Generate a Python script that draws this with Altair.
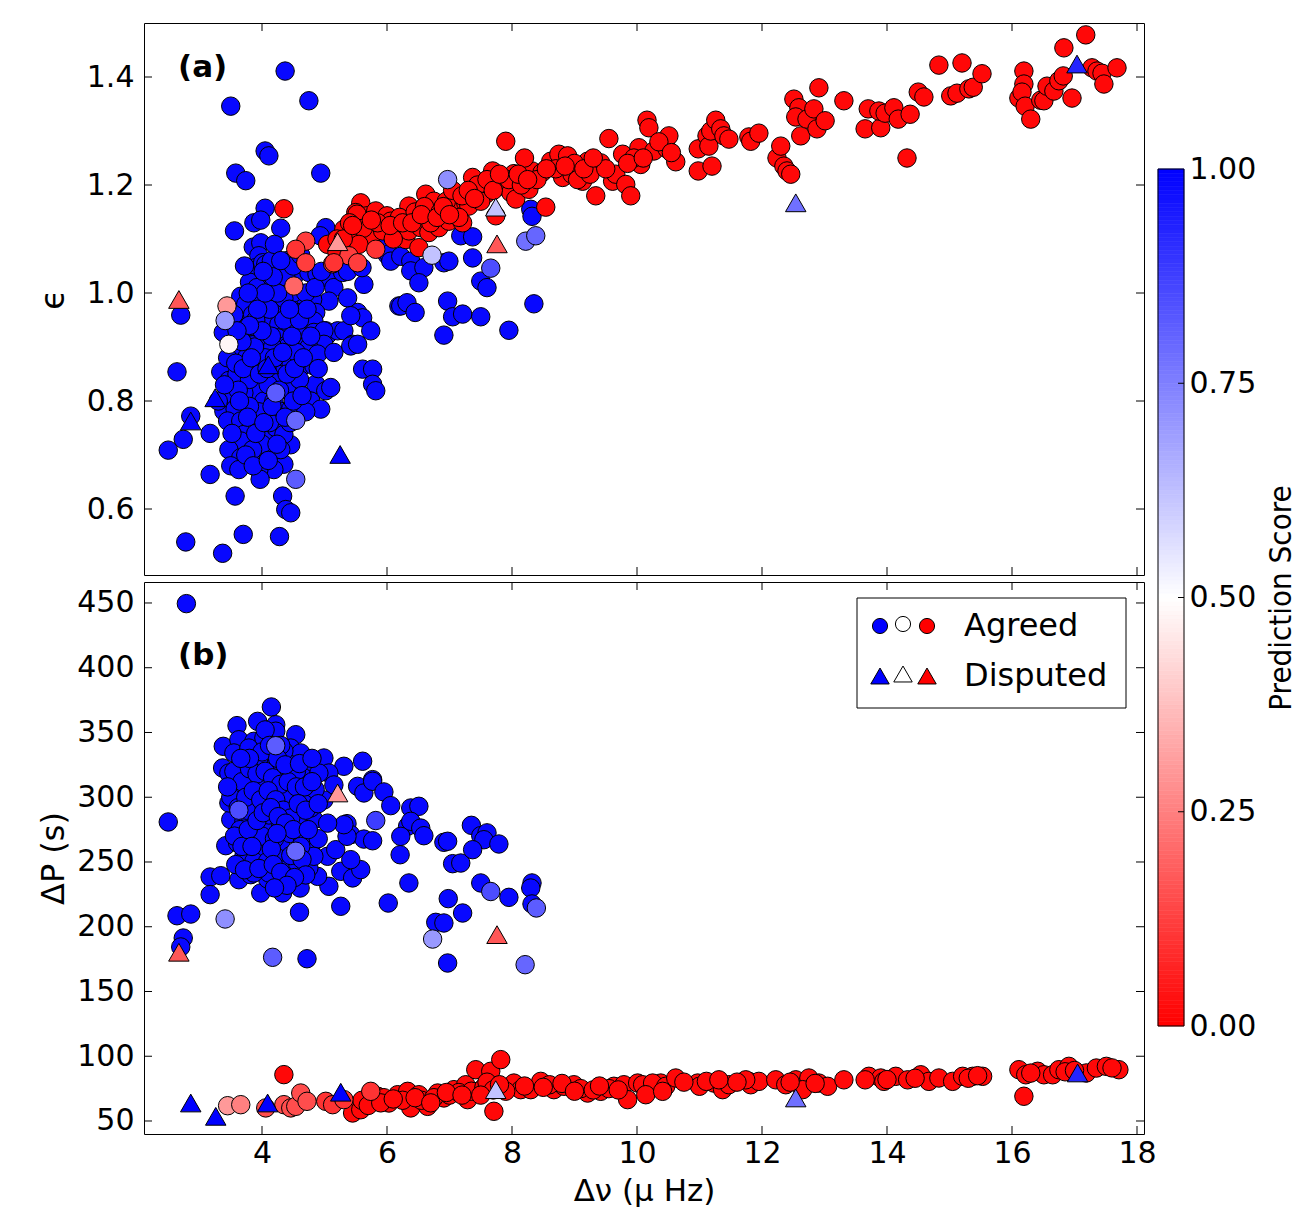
import altair as alt
import pandas as pd
import numpy as np

# ---------------- Panel (a): epsilon vs delta nu ----------------
# agreed stars with prediction score ~1 (blue circles): (dnu, eps)
a_blue = [
    (4.37, 1.411), (3.50, 1.346), (4.75, 1.356), (4.05, 1.263), (4.11, 1.254), (3.58, 1.222),
    (3.74, 1.208), (4.94, 1.222), (4.05, 1.157), (3.87, 1.130), (3.98, 1.135), (3.56, 1.115),
    (4.30, 1.120), (3.86, 1.085), (3.98, 1.093), (3.95, 1.069), (3.90, 1.047), (4.01, 1.056),
    (4.06, 1.053), (4.06, 1.028), (4.14, 1.031), (4.35, 1.016), (4.30, 1.004), (4.54, 1.035),
    (4.75, 1.038), (4.88, 1.035), (5.02, 1.121), (4.93, 1.106), (5.05, 1.028), (5.15, 1.010),
    (5.07, 0.985), (5.02, 0.930), (4.81, 0.988), (4.86, 0.964), (4.62, 0.982), (4.62, 0.964),
    (4.43, 0.976), (4.30, 0.958), (4.46, 0.951), (4.64, 0.942), (4.83, 0.948), (5.05, 0.923),
    (5.21, 0.930), (5.31, 0.930), (5.29, 1.038), (5.37, 1.040), (5.53, 0.964), (5.61, 0.954),
    (5.37, 0.991), (5.42, 0.958), (5.45, 0.905), (5.74, 0.930), (5.63, 1.016), (6.19, 0.976),
    (6.06, 1.062), (6.00, 1.071), (5.94, 1.101),
    (3.66, 0.994), (3.63, 0.964), (3.74, 0.979), (3.95, 0.991), (3.98, 0.961), (4.09, 0.979),
    (4.22, 0.979), (4.11, 0.948), (4.27, 0.942), (4.46, 0.936), (4.62, 0.927), (4.83, 0.927),
    (4.99, 0.930), (3.71, 0.930), (3.87, 0.930), (4.03, 0.917), (4.25, 0.917), (3.82, 0.905),
    (4.19, 0.905), (4.41, 0.905), (4.73, 0.905), (4.99, 0.905), (3.38, 0.927), (2.70, 0.959),
    (3.80, 1.020), (3.92, 1.010), (4.15, 1.060), (4.20, 1.090), (3.72, 1.050), (4.40, 1.060),
    (4.50, 1.000), (3.85, 0.960), (4.35, 0.990), (4.70, 1.000), (4.15, 1.000), (3.55, 0.960),
    (2.64, 0.854), (3.34, 0.854), (3.47, 0.838), (3.76, 0.865), (3.87, 0.865), (3.98, 0.862),
    (4.30, 0.868), (4.46, 0.874), (4.62, 0.862), (4.83, 0.865), (4.75, 0.899), (4.41, 0.900),
    (4.17, 0.900), (3.85, 0.904), (3.66, 0.887), (4.89, 0.887), (5.15, 0.890), (5.42, 0.902),
    (5.53, 0.905), (5.61, 0.859), (5.77, 0.859), (5.77, 0.831), (5.82, 0.819), (4.86, 0.831),
    (5.02, 0.819), (5.10, 0.825), (4.78, 0.800), (4.94, 0.785), (4.57, 0.819), (4.17, 0.834),
    (3.93, 0.819), (3.71, 0.815), (3.50, 0.800), (3.39, 0.781), (3.57, 0.785), (3.87, 0.781),
    (4.03, 0.800), (4.19, 0.800), (4.30, 0.781), (4.46, 0.785), (4.22, 0.760), (3.93, 0.763),
    (3.45, 0.763), (3.66, 0.763), (3.71, 0.738), (3.95, 0.738), (4.06, 0.741), (4.22, 0.751),
    (4.46, 0.719), (4.35, 0.738), (3.66, 0.726), (3.47, 0.710), (3.66, 0.695), (3.50, 0.680),
    (3.63, 0.673), (3.98, 0.695), (4.09, 0.707), (4.35, 0.683), (4.19, 0.673), (3.95, 0.673),
    (3.97, 0.655), (3.17, 0.740), (2.74, 0.729), (2.50, 0.709), (3.17, 0.664), (3.57, 0.624),
    (4.33, 0.624), (4.38, 0.599), (4.46, 0.593), (2.78, 0.539), (3.37, 0.518), (3.70, 0.553),
    (4.28, 0.549), (2.86, 0.772),
    (3.60, 0.850), (4.05, 0.880), (4.25, 0.850), (4.55, 0.890), (4.10, 0.830), (3.80, 0.840),
    (4.40, 0.820), (3.95, 0.780), (4.12, 0.760), (3.80, 0.790), (4.60, 0.840), (4.00, 0.720),
    (4.30, 0.710), (3.85, 0.710), (4.45, 0.760), (3.55, 0.900), (3.45, 0.880), (4.70, 0.780),
    (3.30, 0.800), (4.90, 0.860), (4.15, 0.920), (4.55, 0.930), (3.90, 0.950), (4.35, 0.950),
    (3.62, 0.820), (3.75, 0.880), (3.88, 0.900), (4.00, 0.930), (4.12, 0.970), (4.25, 1.000),
    (4.38, 1.030), (4.50, 1.050), (4.62, 1.070), (3.68, 0.910), (3.80, 0.940), (3.93, 0.970),
    (4.05, 1.000), (4.18, 1.030), (4.30, 1.060), (3.58, 0.870), (3.70, 0.860), (3.83, 0.880),
    (3.96, 0.850), (4.08, 0.860), (4.20, 0.880), (4.33, 0.890), (4.48, 0.920), (4.60, 0.950),
    (4.72, 0.970), (4.85, 1.010), (4.95, 1.040), (3.64, 0.800), (3.77, 0.770), (3.90, 0.740),
    (4.03, 0.760), (4.16, 0.790), (4.28, 0.820), (4.40, 0.850), (4.52, 0.860), (4.66, 0.880),
    (4.78, 0.920), (3.74, 0.700), (3.86, 0.680), (4.10, 0.690), (4.24, 0.720), (4.37, 0.770),
    (4.50, 0.800), (4.64, 0.810), (3.52, 0.740), (3.40, 0.830), (3.60, 0.930), (4.02, 1.040),
    (3.78, 1.000), (4.44, 0.970),
    (8.30, 1.155), (8.32, 1.142), (7.18, 1.106), (7.37, 1.104), (5.95, 1.100), (6.03, 1.072),
    (6.06, 1.059), (6.22, 1.068), (6.38, 1.059), (6.38, 1.041), (6.59, 1.047), (6.51, 1.019),
    (6.91, 1.056), (6.99, 1.059), (7.37, 1.065), (7.50, 1.022), (7.60, 1.010), (6.22, 0.976),
    (6.32, 0.982), (6.45, 0.964), (6.97, 0.985), (7.05, 0.956), (7.21, 0.961), (7.50, 0.956),
    (8.35, 0.980), (7.95, 0.931), (6.91, 0.922), (5.60, 1.047),
]

# agreed stars with prediction score ~0 (red circles): (dnu, eps)
a_red = [
    (4.35, 1.156), (7.90, 1.281), (9.55, 1.286), (10.16, 1.320), (5.58, 1.167), (5.50, 1.149),
    (5.68, 1.143), (5.82, 1.152), (6.00, 1.143), (6.06, 1.133), (5.52, 1.146), (5.31, 1.118),
    (5.47, 1.115), (5.74, 1.102), (5.93, 1.115), (6.14, 1.115), (6.30, 1.099), (6.35, 1.115),
    (6.51, 1.136), (6.54, 1.121), (6.67, 1.112), (6.62, 1.183), (6.75, 1.170), (6.83, 1.121),
    (6.99, 1.133), (7.10, 1.152), (7.21, 1.130), (7.26, 1.167), (7.31, 1.161), (7.37, 1.214),
    (7.58, 1.183), (7.69, 1.226), (7.71, 1.204), (7.85, 1.198), (7.98, 1.186), (8.03, 1.221),
    (8.06, 1.174), (8.27, 1.192), (8.32, 1.226), (8.48, 1.223), (8.54, 1.159), (8.62, 1.244),
    (8.75, 1.257), (8.81, 1.214), (8.89, 1.254), (8.96, 1.220), (9.13, 1.207), (9.21, 1.244),
    (9.34, 1.180), (9.42, 1.241), (9.61, 1.207), (9.66, 1.220), (9.77, 1.257), (9.82, 1.201),
    (9.90, 1.180), (10.03, 1.269), (10.06, 1.238), (6.51, 1.084), (6.35, 1.161), (7.74, 1.143),
    (10.19, 1.306), (10.27, 1.263), (10.48, 1.267), (10.51, 1.291), (10.62, 1.243), (10.98, 1.267),
    (10.98, 1.226), (11.12, 1.291), (11.15, 1.272), (11.18, 1.300), (11.20, 1.235), (11.26, 1.320),
    (11.34, 1.304), (11.39, 1.291), (11.47, 1.285), (11.79, 1.289), (11.82, 1.281), (11.95, 1.296),
    (12.24, 1.250), (12.30, 1.272), (12.35, 1.235), (12.40, 1.226), (12.46, 1.220), (12.51, 1.359),
    (12.59, 1.343), (12.54, 1.326), (12.62, 1.291), (12.72, 1.322), (12.83, 1.341), (12.88, 1.304),
    (12.91, 1.380), (13.01, 1.319), (13.31, 1.356), (13.65, 1.304), (13.70, 1.341), (13.90, 1.306),
    (13.87, 1.337), (13.97, 1.333), (14.11, 1.343), (14.18, 1.322), (14.32, 1.250), (14.37, 1.331),
    (14.50, 1.372), (14.59, 1.363), (14.83, 1.422), (15.02, 1.365), (15.12, 1.370), (15.20, 1.426),
    (15.31, 1.378), (15.38, 1.381), (15.52, 1.406), (16.11, 1.361), (16.19, 1.411), (16.19, 1.387),
    (16.16, 1.372), (16.21, 1.346), (16.30, 1.322), (16.46, 1.357), (16.51, 1.356), (16.56, 1.383),
    (16.67, 1.374), (16.75, 1.393), (16.82, 1.402), (16.83, 1.454), (16.96, 1.361), (17.18, 1.478),
    (17.28, 1.417), (17.36, 1.411), (17.44, 1.407), (17.47, 1.387), (17.68, 1.417),
    (5.05, 1.090), (5.20, 1.100), (5.40, 1.130), (5.62, 1.120), (5.85, 1.130), (6.20, 1.140),
    (6.45, 1.150), (6.60, 1.160), (6.85, 1.150), (6.95, 1.170), (7.05, 1.190), (7.20, 1.180),
    (7.45, 1.200), (7.50, 1.170), (7.60, 1.210), (7.95, 1.210), (8.15, 1.200), (8.40, 1.210),
    (8.70, 1.230), (9.00, 1.240), (9.05, 1.210), (9.25, 1.220), (9.50, 1.230), (9.95, 1.250),
    (10.35, 1.280), (5.20, 1.075), (5.55, 1.090), (6.10, 1.100), (6.70, 1.130), (7.15, 1.140),
    (8.20, 1.250), (9.85, 1.240), (10.10, 1.250), (10.55, 1.260),
    (5.30, 1.100), (5.45, 1.125), (5.75, 1.135), (6.05, 1.125), (6.25, 1.130), (6.40, 1.130),
    (6.55, 1.145), (6.80, 1.140), (6.90, 1.160), (7.00, 1.145), (7.30, 1.190), (7.40, 1.175),
    (7.70, 1.190), (7.80, 1.220), (8.10, 1.220), (8.25, 1.210), (8.55, 1.230), (8.85, 1.235),
    (9.15, 1.230), (9.30, 1.250),
]

# agreed stars with intermediate scores: (dnu, eps, score)
a_mid = [
    (6.97, 1.210, 0.72), (8.22, 1.096, 0.78), (8.38, 1.106, 0.80), (6.72, 1.070, 0.62),
    (7.66, 1.046, 0.85), (4.22, 0.815, 0.82), (4.54, 0.764, 0.80), (4.54, 0.655, 0.82),
    (3.44, 0.976, 0.30), (3.41, 0.949, 0.70), (3.47, 0.905, 0.48), (4.51, 1.013, 0.20),
    (4.70, 1.096, 0.12), (4.54, 1.081, 0.10), (4.70, 1.056, 0.12), (5.13, 1.054, 0.10),
    (5.39, 1.069, 0.12), (5.53, 1.056, 0.12), (5.82, 1.081, 0.10), (5.15, 1.056, 0.10),
]

# disputed stars (triangles): (dnu, eps, score)
a_tri = [
    (2.67, 0.988, 0.17), (5.21, 1.095, 0.30), (7.74, 1.159, 0.62), (7.76, 1.091, 0.17),
    (12.54, 1.167, 0.78), (17.04, 1.424, 0.93), (3.25, 0.806, 1.00), (2.86, 0.763, 1.00),
    (4.10, 0.867, 1.00), (5.25, 0.701, 1.00),
]

# ---------------- Panel (b): delta P vs delta nu ----------------
b_blue = [
    (2.79, 449.5), (4.15, 369.7), (3.60, 355.3), (3.93, 358.6), (4.22, 356.0), (4.22, 351.0),
    (4.54, 348.3), (3.38, 339.3), (3.63, 344.4), (3.87, 343.2), (4.46, 338.0), (4.62, 334.2),
    (4.99, 330.3), (5.31, 323.9), (5.61, 327.8), (3.37, 322.6), (3.55, 334.2), (4.14, 326.4),
    (4.46, 325.1), (4.75, 324.4), (5.07, 318.7), (5.77, 313.6),
    (2.50, 280.9), (5.53, 308.4), (5.63, 303.3), (5.77, 312.3), (5.95, 304.1), (6.06, 293.5),
    (6.38, 291.7), (6.51, 293.0), (5.36, 279.6), (5.42, 271.1), (5.63, 267.7), (5.77, 266.4),
    (6.33, 277.6), (6.38, 281.4), (6.54, 276.2), (6.59, 270.3), (6.22, 269.8), (6.21, 255.6),
    (6.35, 233.8), (6.91, 265.2), (6.97, 266.0), (7.05, 248.7), (7.18, 249.2), (7.35, 278.3),
    (7.50, 270.3), (7.60, 272.5), (7.55, 267.2), (7.37, 259.5), (7.79, 263.9), (7.50, 233.8),
    (7.95, 222.7), (8.32, 233.8), (8.30, 229.9), (8.32, 217.6), (6.98, 221.7), (7.21, 210.6),
    (6.78, 203.4), (6.91, 202.9), (6.97, 172.0), (5.26, 215.8), (6.02, 218.3), (4.61, 229.9),
    (4.60, 211.2), (5.07, 231.2), (4.89, 238.9), (4.75, 245.4), (4.80, 255.6), (5.05, 254.4),
    (5.18, 259.5), (5.26, 242.8), (5.45, 237.7), (5.58, 244.1), (5.42, 251.8), (5.36, 269.8),
    (5.31, 278.8), (4.72, 175.3), (3.17, 238.4), (3.34, 239.4), (3.63, 236.3), (3.17, 224.8),
    (2.64, 208.5), (2.86, 209.8), (2.74, 191.3), (2.70, 184.4), (3.42, 262.6), (3.98, 226.1),
    (4.33, 226.1), (4.09, 236.9), (3.82, 240.2),
    (3.50, 282.7), (3.71, 281.4), (3.82, 284.0), (4.09, 278.8), (4.30, 277.6), (4.57, 281.4),
    (4.83, 282.7), (3.47, 295.6), (3.66, 300.7), (4.09, 295.6), (4.35, 295.6), (4.51, 291.7),
    (4.78, 291.7), (3.61, 264.7), (3.82, 267.2), (3.98, 258.3), (4.30, 263.4), (4.78, 259.5),
    (3.71, 254.4), (3.87, 250.5), (4.09, 250.5), (4.25, 253.1), (4.38, 244.1), (4.57, 249.2),
    (4.83, 254.4), (4.11, 241.5), (3.87, 241.5),
    (3.47, 318.7), (3.71, 326.4), (3.95, 330.3), (4.19, 322.6), (4.43, 318.7), (4.67, 314.9),
    (4.91, 318.7), (5.15, 309.5), (3.79, 311.0), (4.03, 307.1), (4.27, 303.3), (4.51, 307.1),
    (4.75, 301.7), (4.99, 297.9), (3.87, 291.7), (4.11, 286.3), (4.59, 286.3), (4.03, 345.8),
    (4.35, 335.7), (3.79, 338.0), (3.60, 303.3),
    (3.95, 315.0), (4.20, 312.0), (4.40, 300.0), (4.65, 300.0), (3.75, 290.0), (4.00, 270.0),
    (4.20, 268.0), (4.45, 272.0), (3.65, 275.0), (4.15, 260.0), (4.65, 268.0), (4.90, 268.0),
    (3.55, 310.0), (4.30, 340.0), (4.55, 320.0), (4.85, 306.0), (4.05, 352.0), (5.05, 280.0),
    (3.55, 320.0), (3.68, 312.0), (3.80, 322.0), (3.92, 318.0), (4.05, 320.0), (4.17, 315.0),
    (4.30, 310.0), (4.42, 312.0), (4.55, 308.0), (4.68, 308.0), (4.80, 312.0), (3.50, 300.0),
    (3.62, 292.0), (3.74, 300.0), (3.86, 305.0), (3.98, 298.0), (4.10, 305.0), (4.22, 298.0),
    (4.34, 290.0), (4.46, 284.0), (4.58, 295.0), (4.70, 290.0), (4.90, 295.0), (3.56, 270.0),
    (3.68, 262.0), (3.78, 275.0), (3.92, 282.0), (4.02, 288.0), (4.14, 292.0), (4.26, 285.0),
    (4.38, 280.0), (4.50, 275.0), (4.62, 262.0), (4.74, 275.0), (3.58, 248.0), (3.72, 244.0),
    (3.95, 245.0), (4.18, 248.0), (4.30, 242.0), (4.46, 255.0), (4.64, 252.0), (3.84, 262.0),
    (4.24, 272.0), (4.00, 335.0), (4.12, 340.0), (4.25, 330.0), (4.37, 325.0), (4.60, 326.0),
    (4.80, 330.0), (3.80, 330.0), (3.66, 330.0), (3.45, 308.0), (4.70, 240.0), (4.52, 238.0),
    (4.40, 232.0), (4.20, 230.0),
]

b_red = [
    (4.35, 85.8), (5.45, 56.2), (5.58, 58.7), (5.85, 69.1), (6.03, 63.9), (6.17, 70.3),
    (6.33, 72.9), (6.38, 60.1), (6.51, 70.3), (6.65, 61.3), (6.81, 71.6), (6.91, 67.8),
    (7.07, 74.2), (7.26, 78.0), (7.29, 66.5), (7.45, 72.9), (7.42, 89.6), (7.66, 88.4),
    (7.82, 97.4), (7.71, 57.5), (8.03, 79.3), (8.14, 74.2), (8.30, 74.2), (8.46, 80.6),
    (8.67, 74.2), (8.83, 76.8), (8.99, 78.0), (9.21, 71.6), (9.42, 72.9), (9.63, 76.8),
    (9.79, 78.0), (9.85, 66.5), (10.01, 79.3), (10.22, 76.8), (10.38, 79.3), (10.09, 78.0),
    (10.25, 79.3), (10.46, 76.8), (10.62, 83.2), (10.14, 70.3), (10.41, 72.9), (10.97, 79.3),
    (11.00, 76.8), (11.23, 79.3), (11.37, 74.2), (11.47, 78.0), (11.11, 80.6), (11.31, 81.8),
    (11.79, 80.6), (11.82, 78.0), (11.95, 80.6), (11.74, 81.8), (12.22, 81.8), (12.38, 78.0),
    (12.54, 81.8), (12.67, 76.8), (12.75, 83.2), (12.91, 79.3), (13.05, 76.8), (12.65, 74.2),
    (13.31, 81.8), (13.71, 84.5), (13.90, 83.2), (13.95, 80.6), (14.14, 84.5), (14.33, 81.8),
    (14.54, 85.7), (14.67, 80.6), (14.83, 83.2), (15.05, 80.6), (15.21, 84.5), (15.37, 84.5),
    (15.53, 84.5), (13.65, 81.8), (16.11, 89.6), (16.22, 85.7), (16.41, 88.4), (16.51, 85.7),
    (16.65, 85.7), (16.75, 89.6), (16.91, 92.2), (17.19, 87.1), (17.35, 90.9), (17.51, 92.2),
    (17.71, 89.6), (16.19, 69.1),
    (5.60, 66.0), (5.95, 68.0), (6.25, 66.0), (6.55, 66.0), (6.75, 68.0), (7.00, 70.0),
    (7.15, 72.0), (7.35, 73.0), (7.55, 76.0), (7.90, 73.0), (8.60, 78.0), (9.10, 75.0),
    (9.30, 74.0), (9.55, 75.0), (10.75, 80.0), (11.60, 80.0), (12.45, 80.0), (12.85, 79.0),
    (14.00, 82.0), (14.45, 83.0), (15.30, 83.0), (15.45, 85.0), (16.30, 87.0), (16.85, 88.0),
    (17.00, 89.0), (17.60, 91.0), (7.60, 80.0), (7.70, 74.0),
    (5.70, 62.0), (5.90, 64.0), (6.10, 67.0), (6.45, 68.0), (6.70, 64.0), (6.95, 72.0),
    (7.20, 70.0), (7.50, 70.0), (7.80, 78.0), (8.20, 77.0), (8.50, 76.0), (8.80, 79.0),
    (9.00, 73.0), (9.40, 77.0), (9.70, 74.0),
]

b_mid = [
    (4.22, 339.8, 0.82), (5.82, 282.0, 0.88), (7.66, 227.2, 0.85), (8.39, 214.5, 0.82),
    (6.73, 190.5, 0.70), (8.21, 170.7, 0.80), (4.17, 176.4, 0.82), (3.41, 206.0, 0.72),
    (4.54, 258.3, 0.80), (3.63, 290.0, 0.85),
    (3.45, 61.8, 0.30), (3.66, 62.6, 0.25), (4.35, 62.6, 0.15), (4.46, 60.1, 0.15),
    (4.54, 61.3, 0.15), (4.62, 71.6, 0.15), (4.72, 65.2, 0.15), (4.06, 60.1, 0.15),
    (5.02, 65.2, 0.10), (5.13, 62.6, 0.10), (5.31, 66.5, 0.10), (5.74, 72.9, 0.10),
]

b_tri = [
    (2.86, 63.9, 1.00), (3.26, 53.6, 1.00), (4.09, 63.9, 1.00), (5.26, 72.2, 1.00),
    (7.74, 74.2, 0.62), (12.54, 67.8, 0.78), (17.05, 87.1, 0.93), (5.21, 303.3, 0.30),
    (7.76, 193.9, 0.17), (2.67, 180.3, 0.17),
]

x_ticks = [4, 6, 8, 10, 12, 14, 16, 18]
a_ticks = [0.6, 0.8, 1.0, 1.2, 1.4]
b_ticks = [50, 100, 150, 200, 250, 300, 350, 400, 450]
cb_ticks = [0.0, 0.25, 0.5, 0.75, 1.0]

BLUE_SCORE = 0.985
RED_SCORE = 0.015

FONT = "DejaVu Sans"
W, H = 1000, 552


def circles(blue, red, mid, ycol):
    rows = [(d, v, BLUE_SCORE) for d, v in blue]
    rows += [(d, v, RED_SCORE) for d, v in red]
    rows += list(mid)
    return pd.DataFrame(rows, columns=["dnu", ycol, "score"])


def tris(tri, ycol):
    return pd.DataFrame(tri, columns=["dnu", ycol, "score"])


color_scale = alt.Scale(domain=[0, 0.5, 1], range=["#ff0000", "#ffffff", "#0000ff"],
                        interpolate="rgb")
x_scale = alt.Scale(domain=[2.112, 18.112], nice=False, zero=False)


def panel(circ_df, tri_df, ycol, y_scale, y_axis, x_axis, yticks, label, label_y):
    X = alt.X("dnu:Q", scale=x_scale, axis=x_axis)
    Y = alt.Y(f"{ycol}:Q", scale=y_scale, axis=y_axis)
    fill = alt.Fill("score:Q", scale=color_scale, legend=None)
    pts = alt.Chart(circ_df).mark_point(
        shape="circle", filled=True, size=340, stroke="black", strokeWidth=1, opacity=1
    ).encode(x=X, y=Y, fill=fill)
    tri = alt.Chart(tri_df).mark_point(
        shape="triangle-up", filled=True, size=420, stroke="black", strokeWidth=1, opacity=1
    ).encode(x=X, y=Y, fill=fill)
    xt = pd.DataFrame({"dnu": x_ticks})
    yt = pd.DataFrame({ycol: yticks})
    t_top = alt.Chart(xt).mark_rule(color="black", strokeWidth=1).encode(
        x=X, y=alt.value(0), y2=alt.value(8))
    t_bot = alt.Chart(xt).mark_rule(color="black", strokeWidth=1).encode(
        x=X, y=alt.value(H - 8), y2=alt.value(H))
    t_left = alt.Chart(yt).mark_rule(color="black", strokeWidth=1).encode(
        y=Y, x=alt.value(0), x2=alt.value(8))
    t_right = alt.Chart(yt).mark_rule(color="black", strokeWidth=1).encode(
        y=Y, x=alt.value(W - 8), x2=alt.value(W))
    lab = alt.Chart(pd.DataFrame({"t": [label]})).mark_text(
        font=FONT, fontSize=31, fontWeight="bold", align="left", baseline="middle", color="black"
    ).encode(text="t:N", x=alt.value(34), y=alt.value(label_y))
    return [pts, tri, t_top, t_bot, t_left, t_right, lab]


a_y_scale = alt.Scale(domain=[0.4778, 1.5], nice=False, zero=False)
b_y_scale = alt.Scale(domain=[39.96, 466.2], nice=False, zero=False)

common_axis = dict(labelFont=FONT, labelFontSize=30, labelColor="black", ticks=False,
                   tickSize=0, domain=False, grid=False,
                   titleFontWeight="normal", titleColor="black", labelFlush=False,
                   labelOverlap=False)

a_y_axis = alt.Axis(values=a_ticks, format=".1f", labelPadding=10, title="ϵ",
                    titleFont=FONT, titleFontSize=33, titlePadding=16, **common_axis)
b_y_axis = alt.Axis(values=b_ticks, format="d", labelPadding=10, title="ΔP (s)",
                    titleFont=FONT, titleFontSize=32, titlePadding=6, **common_axis)
b_x_axis = alt.Axis(values=x_ticks, format="d", labelPadding=4, title="Δν (μ Hz)",
                    titleFont=FONT, titleFontSize=31, titlePadding=8, **common_axis)

layers_a = panel(circles(a_blue, a_red, a_mid, "eps"), tris(a_tri, "eps"), "eps",
                 a_y_scale, a_y_axis, None, a_ticks, "(a)", 45)
panel_a = alt.layer(*layers_a).properties(
    width=W, height=H, view=alt.ViewBackground(stroke="black", strokeWidth=1))

layers_b = panel(circles(b_blue, b_red, b_mid, "dp"), tris(b_tri, "dp"), "dp",
                 b_y_scale, b_y_axis, b_x_axis, b_ticks, "(b)", 74)

# legend box inside panel (b)
leg_box = alt.Chart(pd.DataFrame({"k": [0]})).mark_rect(
    fill="white", stroke="black", strokeWidth=1).encode(
    x=alt.value(713), x2=alt.value(982), y=alt.value(16), y2=alt.value(126))
leg_items = []
for shape, yy, sz in [("circle", 44, 230), ("triangle-up", 94, 340)]:
    for xx, col in [(736, "#0000ff"), (759, "#ffffff"), (783, "#ff0000")]:
        yoff = 2 if col == "#ffffff" else 0
        leg_items.append(
            alt.Chart(pd.DataFrame({"k": [0]})).mark_point(
                shape=shape, filled=True, size=sz, fill=col, stroke="black",
                strokeWidth=1, opacity=1).encode(x=alt.value(xx), y=alt.value(yy - yoff))
        )
leg_text = [
    alt.Chart(pd.DataFrame({"t": [t]})).mark_text(
        font=FONT, fontSize=32, align="left", baseline="middle", color="black"
    ).encode(text="t:N", x=alt.value(820), y=alt.value(yy))
    for t, yy in [("Agreed", 44), ("Disputed", 94)]
]

panel_b = alt.layer(*layers_b, leg_box, *leg_items, *leg_text).properties(
    width=W, height=H, view=alt.ViewBackground(stroke="black", strokeWidth=1))

# ---------------- colour bar ----------------
lv = np.linspace(0, 1, 201)
cb_df = pd.DataFrame({"lo": lv[:-1], "hi": lv[1:]})
cb_df["score"] = (cb_df["lo"] + cb_df["hi"]) / 2
TOTAL_H = 2 * H + 5
cb_y = alt.Scale(domain=[-106 / 857, 1 + 146 / 857], nice=False, zero=False)
cb_axis = alt.Axis(values=cb_ticks, format=".2f", orient="right", labelPadding=5,
                   title="Prediction Score", titleFont="DejaVu Sans Condensed",
                   titleFontSize=31, titleAngle=270, titleBaseline="top",
                   titleAlign="center", titleX=82, titleY=146 + 428.5,
                   **common_axis)
ramp = alt.Chart(cb_df).mark_rect(strokeWidth=0.6).encode(
    y=alt.Y("lo:Q", scale=cb_y, axis=cb_axis), y2="hi:Q",
    x=alt.value(0), x2=alt.value(26),
    fill=alt.Fill("score:Q", scale=color_scale, legend=None),
    stroke=alt.Stroke("score:Q", scale=color_scale, legend=None))
cb_border = alt.Chart(pd.DataFrame({"lo": [0.0], "hi": [1.0]})).mark_rect(
    fillOpacity=0, stroke="black", strokeWidth=1).encode(
    y=alt.Y("lo:Q", scale=cb_y, axis=cb_axis), y2="hi:Q", x=alt.value(0), x2=alt.value(26))
cb_tk = alt.Chart(pd.DataFrame({"lo": [0.25, 0.5, 0.75]})).mark_rule(
    color="black", strokeWidth=1).encode(
    y=alt.Y("lo:Q", scale=cb_y, axis=cb_axis), x=alt.value(20), x2=alt.value(26))
colorbar = alt.layer(ramp, cb_border, cb_tk).properties(
    width=26, height=TOTAL_H, view=alt.ViewBackground(strokeOpacity=0))

chart = alt.hconcat(
    alt.vconcat(panel_a, panel_b, spacing=5), colorbar, spacing=0
).properties(
    padding={"left": 36, "top": 22, "right": 0, "bottom": 0}, background="white"
).resolve_scale(fill="shared", stroke="shared")

chart.save("out.html", embed_options={"renderer": "svg", "actions": False})
